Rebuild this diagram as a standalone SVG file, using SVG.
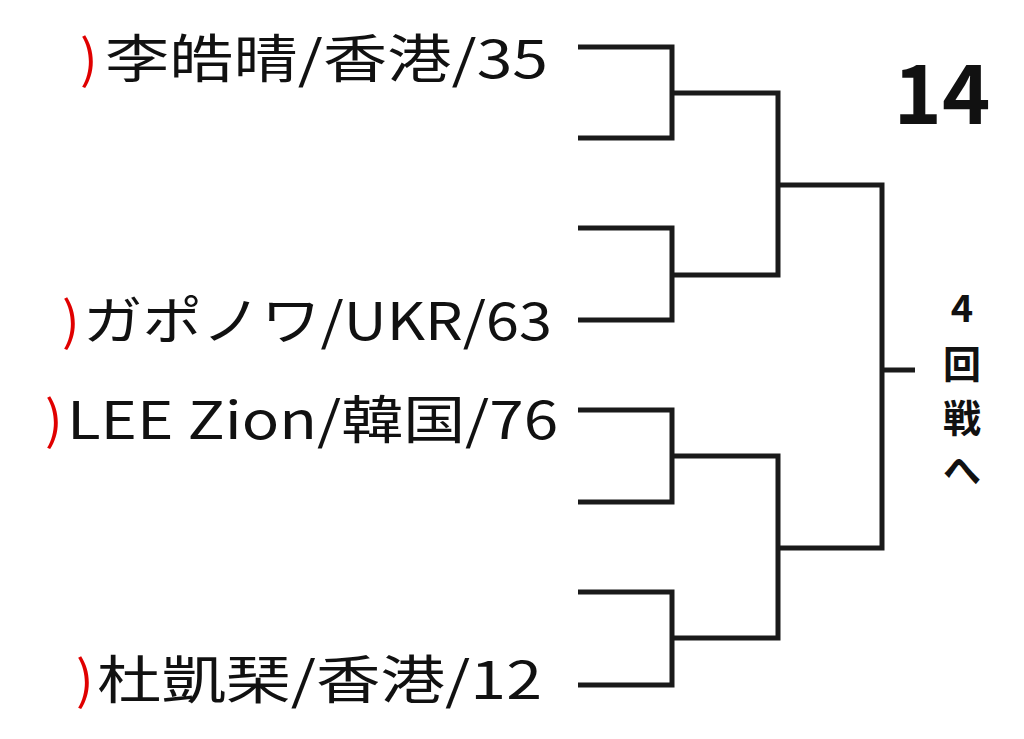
<svg xmlns="http://www.w3.org/2000/svg" width="1024" height="739" viewBox="0 0 1024 739">
<style>
.l{font-family:"Noto Sans CJK JP","Liberation Sans",sans-serif;font-size:52px;fill:#111}
.r{fill:#e00000}
.b{font-family:"Noto Sans CJK JP","Liberation Sans",sans-serif;font-weight:bold;fill:#111;text-anchor:middle}
.w{fill:none;stroke:#1a1a1a;stroke-width:5}
</style>
<rect width="1024" height="739" fill="#fff"/>
<g id="p1"><text class="l" x="80" y="78"><tspan class="r">)</tspan><tspan x="105" textLength="443" lengthAdjust="spacingAndGlyphs">李皓晴/香港/35</tspan></text></g>
<g id="p2"><text class="l" x="62" y="340"><tspan class="r">)</tspan><tspan x="83" textLength="469" lengthAdjust="spacingAndGlyphs">ガポノワ/UKR/63</tspan></text></g>
<g id="p3"><text class="l" x="45" y="439"><tspan class="r">)</tspan><tspan x="67" textLength="491" lengthAdjust="spacingAndGlyphs">LEE Zion/韓国/76</tspan></text></g>
<g id="p4"><text class="l" x="76" y="699"><tspan class="r">)</tspan><tspan x="97" textLength="445" lengthAdjust="spacingAndGlyphs">杜凱琹/香港/12</tspan></text></g>
<g id="num"><text class="b" x="942" y="124" font-size="82">14</text></g>
<g id="next" font-size="38"><text class="b" x="962" y="322">4</text><text class="b" x="962" y="378">回</text><text class="b" x="962" y="432">戦</text><text class="b" x="962" y="484">へ</text></g>
<g id="connectors" class="w">
<path d="M578 47H672V138H578M672 93H778V275H672M578 228H672V320H578"/>
<path d="M578 410H672V502H578M672 456H778V638H672M578 592H672V685H578"/>
<path d="M778 185H882V548H778M882 370H915"/>
</g>
</svg>
